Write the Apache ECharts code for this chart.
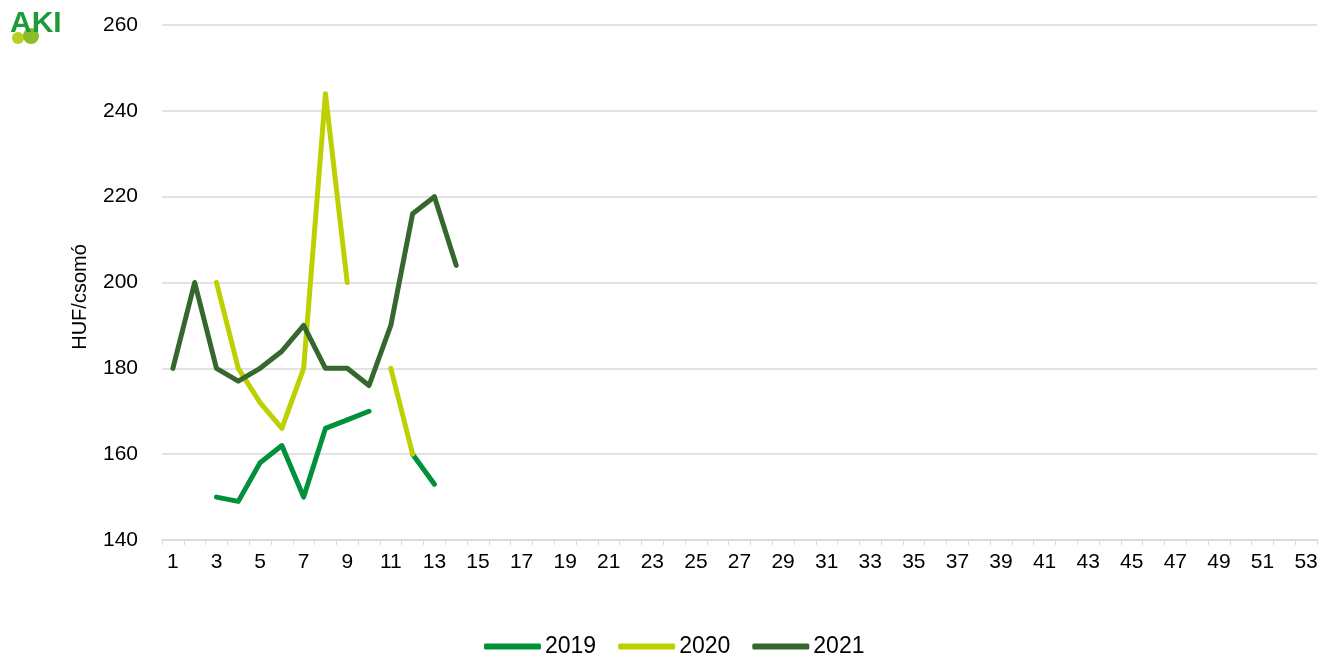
<!DOCTYPE html>
<html>
<head>
<meta charset="utf-8">
<script src="https://cdn.jsdelivr.net/npm/echarts@6/dist/echarts.min.js"></script>
<style>
  html, body { margin: 0; padding: 0; background: #fff; }
  #chart { width: 1330px; height: 657px; }
</style>
</head>
<body>
<div id="chart"></div>
<script>
// weeks 1..53
var weeks = [];
for (var w = 1; w <= 53; w++) weeks.push(String(w));

// HUF/csomó, weekly prices (null = no data)
var y2019 = [null, null, 150, 149, 158, 162, 150, 166, 168, 170, null, 160, 153];
var y2020 = [null, null, 200, 180, 172, 166, 180, 244, 200, null, 180, 160];
var y2021 = [180, 200, 180, 177, 180, 184, 190, 180, 180, 176, 190, 216, 220, 204];

var colors = ['#00913a', '#bdd000', '#35682c'];

var myChart = echarts.init(document.getElementById('chart'));

function mkSeries(name, data, color) {
  return {
    name: name,
    type: 'line',
    data: data,
    symbol: 'none',
    connectNulls: false,
    color: color,
    lineStyle: { width: 5, color: color, cap: 'round', join: 'round' }
  };
}

var option = {
  animation: false,
  textStyle: { fontFamily: 'Liberation Sans, Arial, sans-serif' },
  grid: { left: 162, right: 13, top: 25, bottom: 117 },
  legend: {
    top: 630,
    left: 479,
    icon: 'roundRect',
    itemWidth: 57,
    itemHeight: 6,
    itemGap: 22,
    textStyle: { fontSize: 23, color: '#000', padding: [0, 0, 0, -1] },
    data: ['2019', '2020', '2021']
  },
  xAxis: {
    type: 'category',
    data: weeks,
    boundaryGap: true,
    axisLine: { lineStyle: { color: '#d9d9d9', width: 1.5 } },
    axisTick: { show: true, interval: 0, length: 5, lineStyle: { color: '#d9d9d9' } },
    axisLabel: { interval: 1, fontSize: 21, color: '#000', margin: 12 }
  },
  yAxis: {
    type: 'value',
    min: 140,
    max: 260,
    interval: 20,
    axisLine: { show: false },
    axisTick: { show: false },
    axisLabel: { fontSize: 21, color: '#000', margin: 24 },
    splitLine: { lineStyle: { color: '#d9d9d9', width: 1.5 } }
  },
  graphic: [
    {
      type: 'text', x: 80, y: 297, rotation: Math.PI / 2,
      style: { text: 'HUF/csomó', fontSize: 20, fill: '#000', align: 'center', verticalAlign: 'middle', fontFamily: 'Liberation Sans' }
    },
    { type: 'circle', shape: { cx: 18, cy: 38, r: 6 }, style: { fill: '#b8cf1e' } },
    { type: 'circle', shape: { cx: 31, cy: 36, r: 8 }, style: { fill: '#8bbd2b' } },
    {
      type: 'text', left: 10, top: 9,
      style: { text: 'AKI', fontSize: 30, fontWeight: 'bold', fill: '#1f9a3a', fontFamily: 'Liberation Sans' }
    }
  ],
  series: [
    mkSeries('2019', y2019, colors[0]),
    mkSeries('2020', y2020, colors[1]),
    mkSeries('2021', y2021, colors[2])
  ]
};

myChart.setOption(option);
</script>
</body>
</html>
